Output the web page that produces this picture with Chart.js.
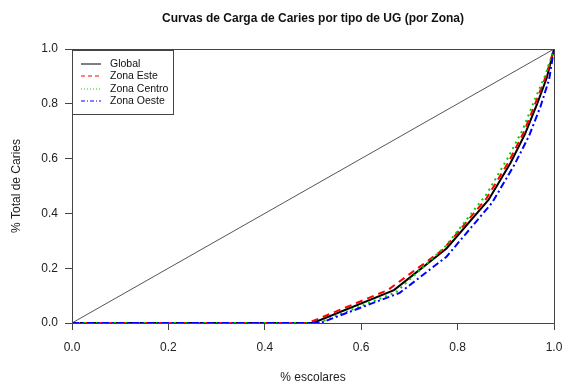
<!DOCTYPE html>
<html>
<head>
<meta charset="utf-8">
<script src="https://cdn.jsdelivr.net/npm/chart.js@4/dist/chart.umd.min.js"></script>
<style>
  html, body { margin: 0; padding: 0; background: #fff; }
  #wrap { width: 563px; height: 385px; position: relative; }
</style>
</head>
<body>
<div id="wrap"><canvas id="lorenz" width="563" height="385"></canvas></div>
<script>
// Curvas de carga (x = % escolares, y = % total de caries)
const diagX = [0, 1];
const diagY = [0, 1];

const globalX = [0, 0.5, 0.668, 0.777, 0.864, 0.91, 0.94, 0.965, 0.985, 1];
const globalY = [0, 0, 0.12, 0.272, 0.449, 0.585, 0.69, 0.8, 0.895, 1];

const esteX = [0, 0.49, 0.655, 0.77, 0.86, 0.905, 0.937, 0.962, 0.983, 1];
const esteY = [0, 0, 0.12, 0.268, 0.455, 0.585, 0.695, 0.805, 0.9, 1];

const centroX = [0, 0.51, 0.672, 0.775, 0.86, 0.905, 0.935, 0.96, 0.982, 1];
const centroY = [0, 0, 0.112, 0.28, 0.47, 0.605, 0.705, 0.815, 0.905, 1];

const oesteX = [0, 0.515, 0.68, 0.777, 0.872, 0.918, 0.948, 0.972, 0.99, 1];
const oesteY = [0, 0, 0.11, 0.242, 0.44, 0.578, 0.682, 0.79, 0.89, 1];

const tickValues = [0, 0.2, 0.4, 0.6, 0.8, 1.0];

const legendItems = [
  { label: 'Global', color: '#000000', dash: [] },
  { label: 'Zona Este', color: '#ff0000', dash: [4, 3] },
  { label: 'Zona Centro', color: '#00dd00', dash: [1, 2] },
  { label: 'Zona Oeste', color: '#0000ff', dash: [4, 2, 1, 2] }
];

const pts = (xs, ys) => xs.map((x, i) => ({ x, y: ys[i] }));
const FONT = '"Liberation Sans", Arial, sans-serif';

const boxPlugin = {
  id: 'rBox',
  afterDraw(chart) {
    const { ctx, chartArea: a } = chart;
    ctx.save();
    // frame
    ctx.strokeStyle = '#444';
    ctx.lineWidth = 1;
    ctx.strokeRect(a.left + 0.5, a.top + 0.5, a.right - a.left, a.bottom - a.top);

    // titles
    ctx.fillStyle = '#111';
    ctx.textAlign = 'center';
    ctx.textBaseline = 'middle';
    ctx.font = 'bold 12px ' + FONT;
    ctx.fillText('Curvas de Carga de Caries por tipo de UG (por Zona)', (a.left + a.right) / 2, 19);
    ctx.font = '12px ' + FONT;
    ctx.fillStyle = '#222';
    ctx.fillText('% escolares', (a.left + a.right) / 2, 378);
    ctx.translate(17, (a.top + a.bottom) / 2);
    ctx.rotate(-Math.PI / 2);
    ctx.fillText('% Total de Caries', 0, 0);
    ctx.restore();

    // legend
    ctx.save();
    const lx = a.left, ly = a.top + 1, lw = 101, lh = 64;
    ctx.fillStyle = '#fff';
    ctx.fillRect(lx, ly, lw, lh);
    ctx.strokeStyle = '#444';
    ctx.lineWidth = 1;
    ctx.strokeRect(lx + 0.5, ly + 0.5, lw, lh);
    ctx.font = '10.5px ' + FONT;
    ctx.textAlign = 'left';
    ctx.textBaseline = 'middle';
    legendItems.forEach((it, i) => {
      const y = Math.round(ly + 13.5 + i * 12.6);
      ctx.strokeStyle = it.color;
      ctx.setLineDash(it.dash);
      ctx.beginPath();
      ctx.moveTo(lx + 9, y);
      ctx.lineTo(lx + 29, y);
      ctx.stroke();
      ctx.setLineDash([]);
      ctx.fillStyle = '#111';
      ctx.fillText(it.label, lx + 38, y);
    });
    ctx.restore();
  }
};

const axisCommon = {
  type: 'linear',
  min: 0,
  max: 1,
  afterBuildTicks: (scale) => { scale.ticks = tickValues.map(v => ({ value: v })); },
  grid: { drawOnChartArea: false, drawTicks: true, tickLength: 7, color: '#444' },
  border: { display: true, color: '#444' }
};

new Chart(document.getElementById('lorenz'), {
  type: 'scatter',
  data: {
    datasets: [
      { label: 'diag', data: pts(diagX, diagY), borderColor: '#555', borderWidth: 1, order: 5 },
      { label: 'Global', data: pts(globalX, globalY), borderColor: '#000', borderWidth: 2, order: 4 },
      { label: 'Zona Este', data: pts(esteX, esteY), borderColor: '#ff0000', borderWidth: 2, borderDash: [7, 5], order: 3 },
      { label: 'Zona Centro', data: pts(centroX, centroY), borderColor: '#00cc00', borderWidth: 2, borderDash: [2, 4], order: 2 },
      { label: 'Zona Oeste', data: pts(oesteX, oesteY), borderColor: '#0000ff', borderWidth: 2, borderDash: [7, 3, 2, 3], order: 1 }
    ].map(d => Object.assign(d, { showLine: true, pointRadius: 0, tension: 0, fill: false }))
  },
  options: {
    responsive: false,
    animation: false,
    layout: { padding: { left: 0, right: 9, top: 49, bottom: 0 } },
    plugins: { legend: { display: false }, tooltip: { enabled: false }, title: { display: false } },
    scales: {
      x: Object.assign({}, axisCommon, {
        position: 'bottom',
        afterFit: (s) => { s.height = 62; s.paddingLeft = 0; s.paddingRight = 0; },
        ticks: { color: '#222', font: { family: FONT, size: 12 }, padding: 10, maxRotation: 0,
          callback: (v) => Number(v).toFixed(1) }
      }),
      y: Object.assign({}, axisCommon, {
        position: 'left',
        afterFit: (s) => { s.width = 72; s.paddingTop = 0; s.paddingBottom = 0; },
        ticks: { color: '#222', font: { family: FONT, size: 12 }, padding: 7,
          callback: (v) => Number(v).toFixed(1) }
      })
    }
  },
  plugins: [boxPlugin]
});
</script>
</body>
</html>
